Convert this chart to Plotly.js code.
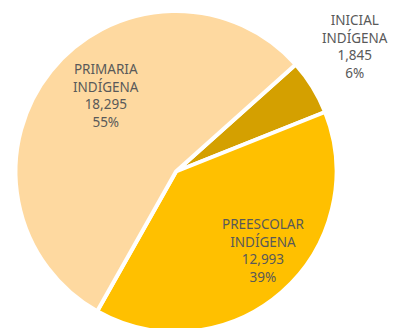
<!DOCTYPE html>
<html>
<head>
<meta charset="utf-8">
<script src="https://cdn.plot.ly/plotly-3.0.1.min.js"></script>
<style>
html,body{margin:0;padding:0;overflow:hidden;background:#fff;width:394px;height:328px;}
#chart{width:394px;height:343px;}
</style>
</head>
<body>
<div id="chart"></div>
<script>
const categories = ['INICIAL<br>INDÍGENA', 'PREESCOLAR<br>INDÍGENA', 'PRIMARIA<br>INDÍGENA'];
const values = [1845, 12993, 18295];
const colors = ['#D4A000', '#FFC000', '#FED9A0'];
// label anchor positions (paper fractions), one per category
const labelX = [1.056, 0.770, 0.283];
const labelY = [0.888, 0.255, 0.738];

const total = values.reduce((a, b) => a + b, 0);

const trace = {
  type: 'pie',
  labels: categories,
  values: values,
  sort: false,
  direction: 'clockwise',
  rotation: 48.2,
  marker: { colors: colors, line: { color: '#ffffff', width: 4 } },
  textinfo: 'none',
  hoverinfo: 'none',
  showlegend: false
};

const annotations = categories.map((c, i) => ({
  xref: 'paper', yref: 'paper',
  x: labelX[i], y: labelY[i],
  xanchor: 'center', yanchor: 'middle',
  showarrow: false,
  align: 'center',
  text: c + '<br>' + values[i].toLocaleString('en-US') + '<br>' + Math.round(values[i] / total * 100) + '%',
  font: { family: 'Noto Sans', size: 13.5, color: '#595959' }
}));

const layout = {
  width: 394,
  height: 343,
  margin: { l: 15, r: 57, t: 11, b: 11 },
  paper_bgcolor: '#ffffff',
  plot_bgcolor: '#ffffff',
  showlegend: false,
  annotations: annotations
};

Plotly.newPlot('chart', [trace], layout, { staticPlot: true, displayModeBar: false });
</script>
</body>
</html>
